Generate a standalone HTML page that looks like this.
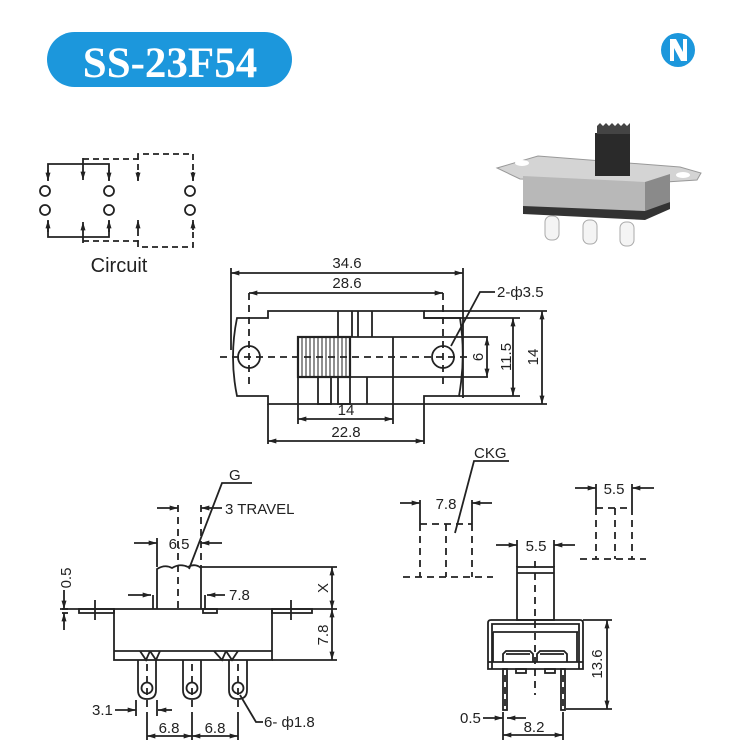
<!DOCTYPE html>
<html><head><meta charset="utf-8"><style>
html,body{margin:0;padding:0;background:#fff;}
svg{display:block;}
text{font-family:"Liberation Sans",Arial,sans-serif;fill:#222;}
</style></head><body>
<svg width="735" height="744" viewBox="0 0 735 744" xmlns="http://www.w3.org/2000/svg">
<defs>
<marker id="a" viewBox="0 0 10 6" refX="10" refY="3" markerWidth="9" markerHeight="5" orient="auto-start-reverse" markerUnits="userSpaceOnUse"><path d="M0,0 L10,3 L0,6 z" fill="#222"/></marker>
</defs>
<!-- Banner -->
<rect x="47" y="32" width="245" height="55" rx="27.5" fill="#1c97dc"/>
<text x="170" y="77" text-anchor="middle" style="font-family:'Liberation Serif',serif;font-weight:bold;font-size:43px;fill:#fff">SS-23F54</text>
<!-- N logo -->
<circle cx="678" cy="50" r="17" fill="#1c97dc"/>
<path d="M670,39 L676,39 L683,52 L683,39 L687,39 L687,61 L681,61 L674,48 L674,61 L670,61 Z" fill="#fff"/>

<g stroke="#222" stroke-width="1.8" fill="none">
<!-- Circuit -->
<circle cx="45" cy="191" r="5"/><circle cx="45" cy="210" r="5"/>
<circle cx="109" cy="191" r="5"/><circle cx="109" cy="210" r="5"/>
<circle cx="190" cy="191" r="5"/><circle cx="190" cy="210" r="5"/>
<polyline points="48,180 48,164 109,164 109,180"/>
<line x1="83" y1="158" x2="83" y2="180" marker-end="url(#a)"/>
<line x1="48" y1="170" x2="48" y2="181" marker-end="url(#a)"/>
<line x1="109" y1="170" x2="109" y2="181" marker-end="url(#a)"/>
<polyline points="48,221 48,237 109,237 109,221"/>
<line x1="83" y1="243" x2="83" y2="222" marker-end="url(#a)"/>
<line x1="48" y1="232" x2="48" y2="220" marker-end="url(#a)"/>
<line x1="109" y1="232" x2="109" y2="220" marker-end="url(#a)"/>
<g stroke-dasharray="6,4">
<polyline points="83,159 138,159 138,180"/>
<polyline points="83,241 138,241 138,222"/>
<polyline points="138,159 138,154 193,154 193,180"/>
<polyline points="138,241 138,247 193,247 193,222"/>
</g>
<line x1="138" y1="172" x2="138" y2="181" marker-end="url(#a)"/>
<line x1="193" y1="172" x2="193" y2="181" marker-end="url(#a)"/>
<line x1="138" y1="230" x2="138" y2="220" marker-end="url(#a)"/>
<line x1="193" y1="230" x2="193" y2="220" marker-end="url(#a)"/>
</g>
<text x="119" y="272" text-anchor="middle" font-size="20">Circuit</text>

<!-- Photo -->
<g>
<polygon points="497,168 538,156 680,167 701,173 697,180 650,183 520,179" fill="#d4d4d4" stroke="#999" stroke-width="1"/>
<ellipse cx="522" cy="163" rx="7" ry="3" fill="#fff"/>
<ellipse cx="683" cy="175" rx="7" ry="3" fill="#fff"/>
<polygon points="523,176 645,182 645,212 523,208" fill="#b8b8b8"/>
<polygon points="645,182 670,174 670,202 645,212" fill="#8a8a8a"/>
<polygon points="523,206 645,211 670,202 670,209 645,220 523,214" fill="#333"/>
<rect x="595" y="133" width="35" height="43" fill="#2a2a2a"/>
<path d="M597,134 L597,126 L600,123 L603,126 L606,123 L609,126 L612,123 L615,126 L618,123 L621,126 L624,123 L627,126 L630,123 L630,134 Z" fill="#444"/>
<g fill="#f4f4f4" stroke="#aaa" stroke-width="1">
<rect x="545" y="216" width="14" height="24" rx="6"/>
<rect x="583" y="220" width="14" height="24" rx="6"/>
<rect x="620" y="222" width="14" height="24" rx="6"/>
</g>
</g>

<!-- Top view -->
<g stroke="#222" stroke-width="1.8" fill="none">
<line x1="231" y1="268" x2="231" y2="350"/>
<line x1="463" y1="268" x2="463" y2="398"/>
<line x1="231" y1="273" x2="463" y2="273" marker-start="url(#a)" marker-end="url(#a)"/>
<line x1="249" y1="293" x2="443" y2="293" marker-start="url(#a)" marker-end="url(#a)"/>
<path d="M268,311 L424,311 L424,318 L460,318 Q466,357 459,396 L424,396 L424,404 L268,404 L268,396 L237,396 Q229,357 237,318 L268,318 Z"/>
<circle cx="249" cy="357" r="11"/><circle cx="443" cy="357" r="11"/>
<g stroke-dasharray="7,5">
<line x1="220" y1="357" x2="468" y2="357"/>
<line x1="249" y1="293" x2="249" y2="384"/>
<line x1="443" y1="293" x2="443" y2="384"/>
</g>
<rect x="298" y="337" width="52" height="40" stroke-width="2.2"/>
<g stroke-width="1">
<line x1="302" y1="337" x2="302" y2="377"/><line x1="306" y1="337" x2="306" y2="377"/><line x1="310" y1="337" x2="310" y2="377"/><line x1="314" y1="337" x2="314" y2="377"/><line x1="318" y1="337" x2="318" y2="377"/><line x1="322" y1="337" x2="322" y2="377"/><line x1="326" y1="337" x2="326" y2="377"/><line x1="330" y1="337" x2="330" y2="377"/><line x1="334" y1="337" x2="334" y2="377"/><line x1="338" y1="337" x2="338" y2="377"/><line x1="342" y1="337" x2="342" y2="377"/><line x1="346" y1="337" x2="346" y2="377"/>
</g>
<polyline points="338,337 338,311"/><polyline points="352,311 352,337"/><polyline points="358,311 358,337"/><polyline points="372,311 372,337"/>
<line x1="350" y1="337" x2="488" y2="337"/>
<line x1="350" y1="377" x2="488" y2="377"/>
<line x1="393" y1="337" x2="393" y2="424"/>
<line x1="298" y1="377" x2="298" y2="424"/>
<rect x="318" y="377" width="13" height="27"/><rect x="338" y="377" width="12" height="27"/>
<line x1="367" y1="377" x2="367" y2="404"/>
<line x1="487" y1="337" x2="487" y2="377" marker-start="url(#a)" marker-end="url(#a)"/>
<line x1="424" y1="318" x2="520" y2="318"/><line x1="459" y1="396" x2="520" y2="396"/>
<line x1="513" y1="318" x2="513" y2="396" marker-start="url(#a)" marker-end="url(#a)"/>
<line x1="424" y1="311" x2="547" y2="311"/><line x1="424" y1="404" x2="547" y2="404"/>
<line x1="542" y1="311" x2="542" y2="404" marker-start="url(#a)" marker-end="url(#a)"/>
<polyline points="451,346 480,292 495,292"/>
<line x1="298" y1="419" x2="393" y2="419" marker-start="url(#a)" marker-end="url(#a)"/>
<line x1="268" y1="404" x2="268" y2="444"/><line x1="424" y1="404" x2="424" y2="444"/>
<line x1="268" y1="441" x2="424" y2="441" marker-start="url(#a)" marker-end="url(#a)"/>
</g>
<g font-size="15">
<text x="347" y="268" text-anchor="middle">34.6</text>
<text x="347" y="288" text-anchor="middle">28.6</text>
<text x="497" y="297">2-ф3.5</text>
<text x="346" y="415" text-anchor="middle">14</text>
<text x="346" y="437" text-anchor="middle">22.8</text>
<text transform="translate(483,357) rotate(-90)" text-anchor="middle">6</text>
<text transform="translate(511,357) rotate(-90)" text-anchor="middle">11.5</text>
<text transform="translate(538,357) rotate(-90)" text-anchor="middle">14</text>
</g>

<!-- Bottom-left side view -->
<g stroke="#222" stroke-width="1.8" fill="none">
<rect x="114" y="609" width="158" height="51"/>
<line x1="114" y1="651" x2="272" y2="651"/>
<rect x="79" y="609" width="35" height="4"/><rect x="272" y="609" width="40" height="4"/>
<line x1="95" y1="600" x2="95" y2="620"/><line x1="291" y1="600" x2="291" y2="620"/>
<line x1="60" y1="609" x2="114" y2="609"/>
<path d="M157,609 L157,569 Q165,564 172,568 Q180,563 188,567 Q195,563 201,568 L201,609"/>
<rect x="203" y="609" width="14" height="4"/>
<line x1="153" y1="595" x2="153" y2="609"/><line x1="205" y1="595" x2="205" y2="609"/>
<path d="M140,651 L146,660 L150,651 M160,651 L156,660 L150,651" />
<path d="M214,651 L222,660 L226,651 M238,651 L232,660 L226,651"/>
<g>
<path d="M138,660 L138,690 Q138,699 147,699 Q156,699 156,690 L156,660"/>
<path d="M183,660 L183,690 Q183,699 192,699 Q201,699 201,690 L201,660"/>
<path d="M229,660 L229,690 Q229,699 238,699 Q247,699 247,690 L247,660"/>
<circle cx="147" cy="688" r="5.5"/><circle cx="192" cy="688" r="5.5"/><circle cx="238" cy="688" r="5.5"/>
</g>
<g stroke-dasharray="7,5">
<line x1="178" y1="505" x2="178" y2="609"/>
<line x1="201" y1="505" x2="201" y2="567"/>
<line x1="147" y1="664" x2="147" y2="712"/><line x1="192" y1="664" x2="192" y2="712"/><line x1="238" y1="664" x2="238" y2="712"/>
</g>
<line x1="157" y1="538" x2="157" y2="567"/>
<line x1="134" y1="543" x2="157" y2="543" marker-end="url(#a)"/>
<line x1="222" y1="543" x2="201" y2="543" marker-end="url(#a)"/>
<line x1="157" y1="508" x2="178" y2="508" marker-end="url(#a)"/>
<line x1="222" y1="508" x2="201" y2="508" marker-end="url(#a)"/>
<polyline points="189,569 222,483 252,483"/>
<line x1="128" y1="595" x2="151" y2="595" marker-end="url(#a)"/>
<line x1="225" y1="595" x2="207" y2="595" marker-end="url(#a)"/>
<line x1="201" y1="567" x2="337" y2="567"/><line x1="272" y1="609" x2="337" y2="609"/><line x1="272" y1="660" x2="337" y2="660"/>
<line x1="332" y1="567" x2="332" y2="609" marker-start="url(#a)" marker-end="url(#a)"/>
<line x1="332" y1="609" x2="332" y2="660" marker-start="url(#a)" marker-end="url(#a)"/>
<line x1="64" y1="590" x2="64" y2="609" marker-end="url(#a)"/>
<line x1="64" y1="630" x2="64" y2="613" marker-end="url(#a)"/>
<line x1="62" y1="609" x2="68" y2="609"/><line x1="62" y1="613" x2="68" y2="613"/>
<line x1="115" y1="710" x2="136" y2="710" marker-end="url(#a)"/>
<line x1="172" y1="710" x2="158" y2="710" marker-end="url(#a)"/>
<line x1="136" y1="700" x2="136" y2="716"/><line x1="157" y1="700" x2="157" y2="716"/>
<line x1="147" y1="712" x2="147" y2="740"/><line x1="192" y1="712" x2="192" y2="740"/><line x1="238" y1="712" x2="238" y2="740"/>
<line x1="147" y1="736" x2="192" y2="736" marker-start="url(#a)" marker-end="url(#a)"/>
<line x1="192" y1="736" x2="238" y2="736" marker-start="url(#a)" marker-end="url(#a)"/>
<polyline points="240,695 256,722 263,722"/>
</g>
<g font-size="15">
<text x="229" y="480">G</text>
<text x="225" y="514">3 TRAVEL</text>
<text x="179" y="549" text-anchor="middle">6.5</text>
<text x="229" y="600">7.8</text>
<text transform="translate(328,588) rotate(-90)" text-anchor="middle">X</text>
<text transform="translate(328,635) rotate(-90)" text-anchor="middle">7.8</text>
<text transform="translate(71,578) rotate(-90)" text-anchor="middle">0.5</text>
<text x="92" y="715">3.1</text>
<text x="169" y="733" text-anchor="middle">6.8</text>
<text x="215" y="733" text-anchor="middle">6.8</text>
<text x="264" y="727">6- ф1.8</text>
</g>

<!-- Bottom-right -->
<g stroke="#222" stroke-width="1.8" fill="none">
<g stroke-dasharray="7,5">
<line x1="420" y1="524" x2="472" y2="524"/>
<line x1="420" y1="524" x2="420" y2="577"/><line x1="446" y1="524" x2="446" y2="577"/><line x1="472" y1="524" x2="472" y2="577"/>
<line x1="403" y1="577" x2="493" y2="577"/>
<line x1="596" y1="508" x2="632" y2="508"/>
<line x1="596" y1="508" x2="596" y2="559"/><line x1="615" y1="508" x2="615" y2="559"/><line x1="632" y1="508" x2="632" y2="559"/>
<line x1="580" y1="559" x2="646" y2="559"/>
<line x1="535" y1="561" x2="535" y2="695"/>
<line x1="505" y1="675" x2="505" y2="710"/><line x1="563" y1="675" x2="563" y2="710"/>
</g>
<line x1="420" y1="500" x2="420" y2="524"/><line x1="472" y1="500" x2="472" y2="524"/>
<line x1="400" y1="503" x2="420" y2="503" marker-end="url(#a)"/>
<line x1="492" y1="503" x2="472" y2="503" marker-end="url(#a)"/>
<line x1="596" y1="484" x2="596" y2="508"/><line x1="632" y1="484" x2="632" y2="508"/>
<line x1="575" y1="488" x2="596" y2="488" marker-end="url(#a)"/>
<line x1="654" y1="488" x2="632" y2="488" marker-end="url(#a)"/>
<polyline points="455,533 474,461 509,461"/>
<rect x="517" y="567" width="37" height="53"/>
<line x1="517" y1="573" x2="554" y2="573"/>
<line x1="517" y1="540" x2="517" y2="567"/><line x1="554" y1="540" x2="554" y2="567"/>
<line x1="496" y1="545" x2="517" y2="545" marker-end="url(#a)"/>
<line x1="575" y1="545" x2="554" y2="545" marker-end="url(#a)"/>
<path d="M488,669 L488,623 Q488,620 491,620 L580,620 Q583,620 583,623 L583,669 Z"/>
<path d="M492,669 L492,624 L579,624 L579,669"/>
<line x1="493" y1="632" x2="578" y2="632"/>
<line x1="493" y1="632" x2="493" y2="662"/><line x1="577" y1="632" x2="577" y2="662"/>
<line x1="488" y1="662" x2="583" y2="662"/>
<path d="M503,662 L503,654 L506,651 L530,651 L533,654 L533,662 M506,654 L530,654"/>
<path d="M537,662 L537,654 L540,651 L564,651 L567,654 L567,662 M540,654 L564,654"/>
<rect x="516" y="669" width="10" height="4"/><rect x="545" y="669" width="10" height="4"/>
<rect x="503" y="669" width="4" height="41"/><rect x="561" y="669" width="4" height="41"/>
<line x1="583" y1="620" x2="612" y2="620"/><line x1="566" y1="709" x2="612" y2="709"/>
<line x1="607" y1="620" x2="607" y2="709" marker-start="url(#a)" marker-end="url(#a)"/>
<line x1="483" y1="718" x2="503" y2="718" marker-end="url(#a)"/>
<line x1="526" y1="718" x2="507" y2="718" marker-end="url(#a)"/>
<line x1="503" y1="712" x2="503" y2="740"/><line x1="563" y1="712" x2="563" y2="740"/>
<line x1="503" y1="735" x2="563" y2="735" marker-start="url(#a)" marker-end="url(#a)"/>
</g>
<g font-size="15">
<text x="474" y="458">CKG</text>
<text x="446" y="509" text-anchor="middle">7.8</text>
<text x="614" y="494" text-anchor="middle">5.5</text>
<text x="536" y="551" text-anchor="middle">5.5</text>
<text transform="translate(602,664) rotate(-90)" text-anchor="middle">13.6</text>
<text x="460" y="723">0.5</text>
<text x="534" y="732" text-anchor="middle">8.2</text>
</g>
</svg>
</body></html>
